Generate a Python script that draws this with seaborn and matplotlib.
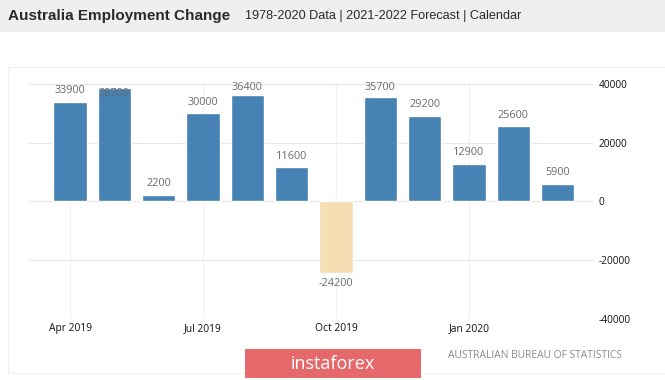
import matplotlib
matplotlib.use("Agg")
import matplotlib.pyplot as plt
import seaborn as sns
import pandas as pd
from matplotlib.patches import Rectangle

months = ["Apr 2019", "May 2019", "Jun 2019", "Jul 2019", "Aug 2019", "Sep 2019",
          "Oct 2019", "Nov 2019", "Dec 2019", "Jan 2020", "Feb 2020", "Mar 2020"]
values = [33900, 38700, 2200, 30000, 36400, 11600, -24200, 35700, 29200, 12900, 25600, 5900]
tick_labels = ["Apr 2019", "Jul 2019", "Oct 2019", "Jan 2020"]
y_ticks = [-40000, -20000, 0, 20000, 40000]

title = "Australia Employment Change"
subtitle = "1978-2020 Data | 2021-2022 Forecast | Calendar"
source = "AUSTRALIAN BUREAU OF STATISTICS"
brand = "instaforex"

df = pd.DataFrame({"month": months, "value": values})
df["sign"] = ["pos" if v >= 0 else "neg" for v in values]

sns.set_theme(style="white")
plt.rcParams["font.family"] = ["Open Sans", "DejaVu Sans"]

W, H = 665, 380
fig = plt.figure(figsize=(W / 100, H / 100), dpi=100)
fig.patch.set_facecolor("white")

# title band
fig.patches.append(Rectangle((0, 1 - 32 / H), 1, 32 / H, transform=fig.transFigure,
                             facecolor="#efefef", edgecolor="none", zorder=0))
# faint chart frame
fig.patches.append(Rectangle((8 / W, 1 - 373 / H), 1.2, (373 - 67) / H, transform=fig.transFigure,
                             facecolor="none", edgecolor="#f0f0f0", linewidth=0.8, zorder=0))

fig.text(8 / W, 1 - 16 / H, title, fontsize=11, fontweight="bold", color="#2a2a2a",
         family=["Liberation Sans", "DejaVu Sans"], va="center", ha="left")
fig.text(245 / W, 1 - 16 / H, subtitle, fontsize=9.1, color="#2a2a2a",
         family=["Liberation Sans", "DejaVu Sans"], va="center", ha="left")

ytop = 40500
ax = fig.add_axes([28 / W, 1 - 319 / H, (593 - 28) / W, (319 - 82.5) / H])
ax.set_facecolor("none")

sns.barplot(data=df, x="month", y="value", hue="sign",
            palette={"pos": "#4682b4", "neg": "#f5deb3"},
            dodge=False, width=0.75, legend=False, ax=ax, zorder=3, saturation=1)

ax.set_ylim(-40000, ytop)
ax.set_xlim(-0.95, 11.8)

half = 1700
for i, v in enumerate(values):
    if v >= 0:
        y = min(v + 3800, ytop - half)
        if y < v + half:
            y = v - 1900
    else:
        y = v - 3800
    ax.text(i, y, f"{v}", ha="center", va="center", fontsize=7.8, color="#6b6b6b", zorder=5)

ax.set_yticks(y_ticks)
ax.set_yticklabels([str(t) for t in y_ticks])
ax.yaxis.tick_right()
ax.tick_params(axis="y", length=0, pad=4, labelsize=7.3, labelcolor="#111111")

xpos = [months.index(t) for t in tick_labels]
ax.set_xticks(xpos)
ax.set_xticklabels(tick_labels)
ax.tick_params(axis="x", length=0, pad=3, labelsize=7.4, labelcolor="#111111")

ax.grid(True, axis="y", color="#e8e8e8", linewidth=0.8, zorder=0)
ax.grid(True, axis="x", color="#f0f0f0", linewidth=0.8, zorder=0)
for s in ax.spines.values():
    s.set_visible(False)
ax.set_xlabel("")
ax.set_ylabel("")

# source text
fig.text(448 / W, 1 - 355 / H, source, fontsize=7.4, color="#8a8a8a", va="center", ha="left")

# brand box
fig.patches.append(Rectangle((245 / W, 1 - 378 / H), (421 - 245) / W, (378 - 349) / H,
                             transform=fig.transFigure, facecolor="#e5686b", edgecolor="none", zorder=1))
fig.text(333 / W, 1 - 364 / H, brand, fontsize=13, color="white",
         family=["Open Sans", "DejaVu Sans"], va="center", ha="center", zorder=2)

fig.savefig("out.png", dpi=100)
